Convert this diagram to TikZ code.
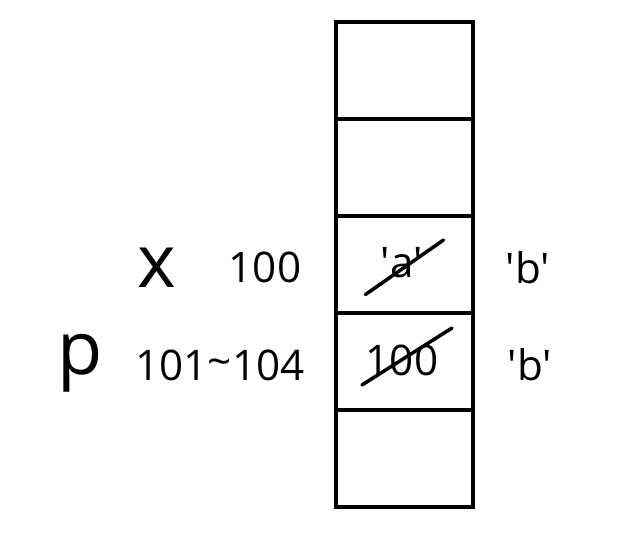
\documentclass[tikz,border=0pt]{standalone}
\usepackage{fontspec}
\setmainfont{Open Sans}
\usepackage{tikz}
\usetikzlibrary{positioning}

\begin{document}
\begin{tikzpicture}
    \tikzstyle{cell}=[rectangle, draw, line width=2pt, minimum width=2.74cm, minimum height=1.94cm, outer sep=0pt, inner sep=0pt]
    \tikzstyle{val}=[font=\fontsize{24}{28}\selectfont, inner sep=0pt]
    \tikzstyle{var}=[font=\fontsize{42}{48}\selectfont, inner sep=0pt]
    \tikzstyle{barre}=[line width=2pt, line cap=round]

    \useasboundingbox (0,0) rectangle (12.56,10.74);

    % memory cells
    \node[cell] (case1) at (8.09,9.33) {};
    \node[cell, below=0pt of case1] (case2) {};
    \node[cell, below=0pt of case2] (case3) {};
    \node[cell, below=0pt of case3] (case4) {};
    \node[cell, below=0pt of case4] (case5) {};

    % variable x
    \node[var] (nom-x) at (3.14,5.38) {x};
    \node[val] (adr-x) at (5.30,5.40) {100};
    \node[val] (val-x) at (8.04,5.48) {\textquotesingle a\textquotesingle};
    \node[val] (new-x) at (10.56,5.38) {\textquotesingle b\textquotesingle};

    % pointer p
    \node[var] (nom-p) at (1.60,3.48) {p};
    \node[val] (adr-p) at (4.40,3.44) {101\raisebox{0.15ex}{\char"007E}104};
    \node[val] (val-p) at (8.04,3.54) {100};
    \node[val] (new-p) at (10.60,3.44) {\textquotesingle b\textquotesingle};

    % strikes
    \coordinate (barre-x1) at (7.31,4.85);
    \coordinate (barre-x2) at (8.87,5.94);
    \coordinate (barre-p1) at (7.24,3.04);
    \coordinate (barre-p2) at (9.04,4.18);
    \draw[barre] (barre-x1) -- (barre-x2);
    \draw[barre] (barre-p1) -- (barre-p2);
\end{tikzpicture}
\end{document}
